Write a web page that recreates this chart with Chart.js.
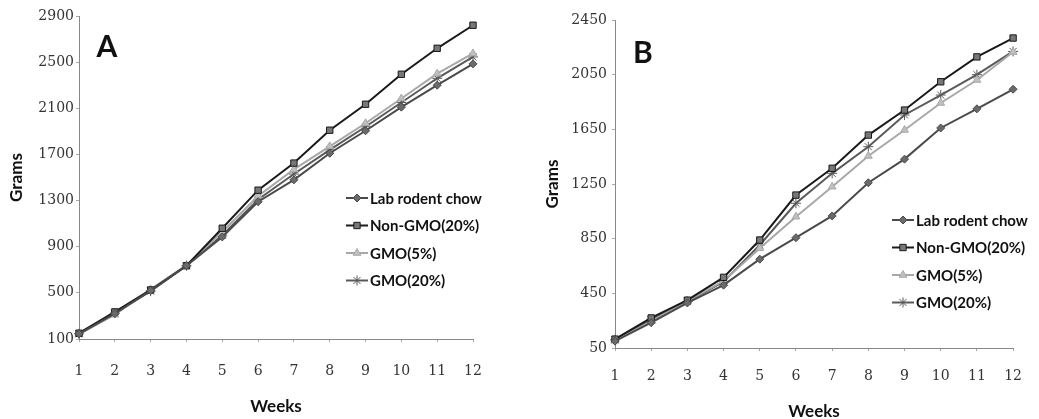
<!DOCTYPE html>
<html>
<head>
<meta charset="utf-8">
<script src="https://cdn.jsdelivr.net/npm/chart.js@4/dist/chart.umd.min.js"></script>
<style>
  html, body { margin: 0; padding: 0; background: #fff; }
  .panel { position: absolute; top: 0; height: 419px; }
  #wrapA { left: 0; width: 520px; }
  #wrapB { left: 520px; width: 519px; }
</style>
</head>
<body>
<div class="panel" id="wrapA"><canvas id="chartA" width="520" height="419"></canvas></div>
<div class="panel" id="wrapB"><canvas id="chartB" width="519" height="419"></canvas></div>
<script>
// ----- Data -----
const weeks = ['1', '2', '3', '4', '5', '6', '7', '8', '9', '10', '11', '12'];
const seriesNames = ['Lab rodent chow', 'Non-GMO(20%)', 'GMO(5%)', 'GMO(20%)'];

// panel A
const labA    = [145, 320, 520, 735, 985, 1290, 1480, 1710, 1905, 2110, 2300, 2485];
const nonGmoA = [150, 335, 525, 735, 1060, 1390, 1625, 1910, 2135, 2395, 2620, 2820];
const gmo5A   = [140, 310, 530, 740, 1030, 1340, 1570, 1770, 1970, 2185, 2400, 2575];
const gmo20A  = [145, 325, 515, 735, 1000, 1310, 1530, 1740, 1940, 2150, 2360, 2545];

// panel B
const labB    = [100, 235, 380, 510, 700, 857, 1016, 1259, 1432, 1660, 1800, 1943];
const nonGmoB = [115, 270, 400, 567, 840, 1169, 1365, 1608, 1791, 1998, 2180, 2318];
const gmo5B   = [105, 245, 395, 540, 780, 1011, 1230, 1455, 1645, 1843, 2011, 2216];
const gmo20B  = [110, 255, 390, 535, 804, 1109, 1328, 1523, 1755, 1901, 2050, 2220];

// ----- Series styles -----
const styles = [
  { color: '#4a4a4a', fill: '#6a6a6a', point: 'rectRot', radius: 4 },
  { color: '#1a1a1a', fill: '#777777', point: 'rect', radius: 4.5 },
  { color: '#a8a8a8', fill: '#c0c0c0', point: 'triangle', radius: 4.5 },
  { color: '#5a5a5a', fill: '#5a5a5a', point: 'star', radius: 5 }
];

// legend + panel letter drawn on the canvas
const panelExtras = {
  id: 'panelExtras',
  afterDraw(chart, args, opts) {
    const ctx = chart.ctx;
    ctx.save();
    // big letter
    ctx.fillStyle = '#111';
    ctx.font = 'bold 30px Lato, "Open Sans", sans-serif';
    ctx.textAlign = 'center';
    ctx.textBaseline = 'middle';
    ctx.fillText(opts.letter, opts.letterX, opts.letterY);

    // legend entries
    ctx.font = 'bold 15px Lato, "Open Sans", sans-serif';
    ctx.textAlign = 'left';
    chart.data.datasets.forEach((ds, i) => {
      const y = opts.legendY + i * opts.legendGap;
      const x0 = opts.legendX;
      const x1 = x0 + 22;
      ctx.strokeStyle = ds.borderColor;
      ctx.lineWidth = 2;
      ctx.beginPath();
      ctx.moveTo(x0, y);
      ctx.lineTo(x1, y);
      ctx.stroke();
      ctx.fillStyle = ds.pointBackgroundColor;
      ctx.strokeStyle = ds.borderColor;
      ctx.lineWidth = 1;
      if (Chart.helpers && Chart.helpers.drawPoint) {
        Chart.helpers.drawPoint(ctx, { pointStyle: ds.pointStyle, radius: ds.pointRadius, rotation: 0, borderWidth: 1 }, (x0 + x1) / 2, y);
      }
      ctx.fillStyle = '#111';
      ctx.fillText(ds.label, x1 + 2, y + 1);
    });
    ctx.restore();
  }
};

function buildDatasets(values) {
  return values.map((v, i) => ({
    label: seriesNames[i],
    data: v,
    borderColor: styles[i].color,
    backgroundColor: styles[i].fill,
    pointBackgroundColor: styles[i].fill,
    pointBorderColor: styles[i].color,
    pointStyle: styles[i].point,
    pointRadius: styles[i].radius,
    pointBorderWidth: 1,
    borderWidth: 2,
    tension: 0
  }));
}

function makeChart(id, values, cfg) {
  const ctx = document.getElementById(id).getContext('2d');
  return new Chart(ctx, {
    type: 'line',
    data: { labels: weeks, datasets: buildDatasets(values) },
    options: {
      responsive: false,
      animation: false,
      layout: { padding: cfg.padding },
      plugins: {
        legend: { display: false },
        tooltip: { enabled: false },
        panelExtras: cfg.extras
      },
      scales: {
        x: {
          offset: false,
          afterFit: scale => { scale.height = cfg.xHeight; },
          border: { display: true, dash: [2, 2], color: '#888' },
          grid: { drawOnChartArea: false, tickLength: 3, color: '#aaa' },
          ticks: { padding: cfg.xPad, color: '#333', font: { family: '"DejaVu Serif", serif', size: 14 } },
          title: {
            display: true, text: 'Weeks', color: '#111',
            font: { family: 'Lato, "Open Sans", sans-serif', size: 17, weight: 'bold' },
            padding: { top: 0, bottom: cfg.weeksPad }
          }
        },
        y: {
          min: cfg.min,
          max: cfg.max,
          afterFit: scale => { scale.width = cfg.yWidth; },
          border: { display: true, dash: [2, 2], color: '#888' },
          grid: { drawOnChartArea: false, tickLength: 3, color: '#aaa' },
          ticks: {
            stepSize: 400, padding: cfg.yPad, color: '#333',
            font: { family: '"DejaVu Serif", serif', size: 14 },
            callback: value => String(value)
          },
          title: {
            display: true, text: 'Grams', color: '#111',
            font: { family: 'Lato, "Open Sans", sans-serif', size: 17, weight: 'bold' },
            padding: { top: 0, bottom: 0 }
          }
        }
      }
    },
    plugins: [panelExtras]
  });
}

makeChart('chartA', [labA, nonGmoA, gmo5A, gmo20A], {
  min: 100, max: 2900,
  padding: { left: 6, right: 47, top: 16, bottom: 0 },
  yWidth: 73, xHeight: 80, xPad: 21, yPad: 2, weeksPad: 2,
  extras: { letter: 'A', letterX: 107, letterY: 47, legendX: 346, legendY: 198, legendGap: 27.5 }
});

makeChart('chartB', [labB, nonGmoB, gmo5B, gmo20B], {
  min: 50, max: 2450,
  padding: { left: 22, right: 9, top: 20, bottom: 0 },
  yWidth: 73, xHeight: 71, xPad: 17, yPad: 5, weeksPad: -3,
  extras: { letter: 'B', letterX: 123, letterY: 53, legendX: 372, legendY: 220, legendGap: 27.5 }
});
</script>
</body>
</html>
